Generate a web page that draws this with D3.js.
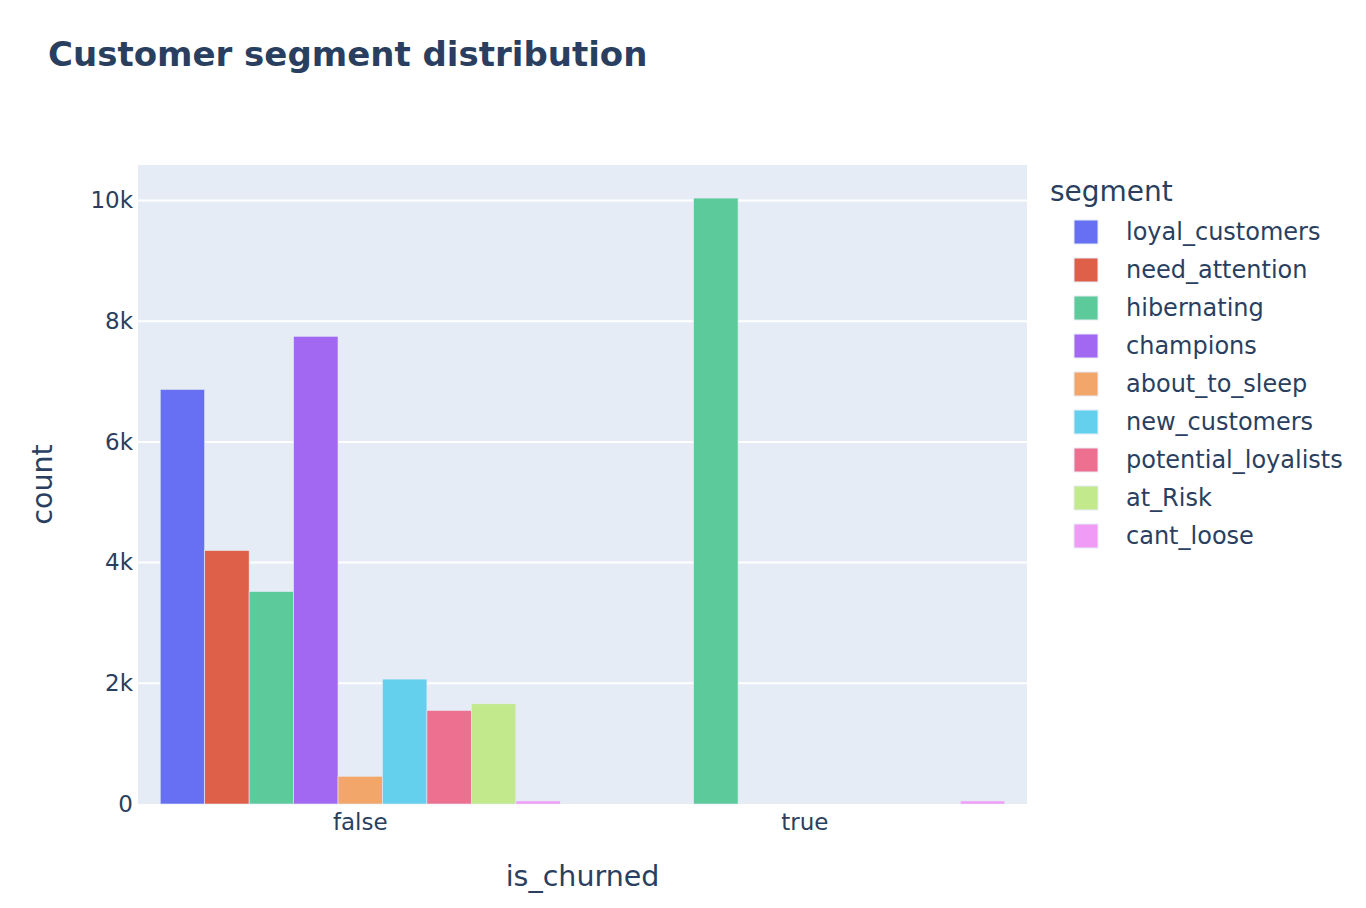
<!DOCTYPE html>
<html>
<head>
<meta charset="utf-8">
<title>Customer segment distribution</title>
<style>
body {
    margin: 0px;
    overflow: hidden;
    background: #fff;
}
text {
    font-family: "DejaVu Sans", Verdana, sans-serif;
    fill: #2a3f5f;
}
</style>
<script src="https://cdnjs.cloudflare.com/ajax/libs/d3/7.8.5/d3.min.js"></script>
</head>
<body>
<div id="chart"></div>
<script>

var groups = ["false", "true"];
var segments = ["loyal_customers", "need_attention", "hibernating", "champions",
    "about_to_sleep", "new_customers", "potential_loyalists", "at_Risk", "cant_loose"];
var colors = ["#6770f3", "#df6048", "#5cca9a", "#a268f2", "#f3a66a",
    "#64d0ee", "#ed7091", "#c2e98c", "#f09cf6"];
// null = no bar for that segment in that group
var countsFalse = [6870, 4200, 3520, 7750, 460, 2070, 1550, 1660, 50];
var countsTrue = [null, null, 10040, null, null, null, null, null, 50];
var yTicks = [0, 2000, 4000, 6000, 8000, 10000];

var width = 1366, height = 908;
var plot = {left: 138, right: 1027, top: 165, bottom: 804};

var svg = d3.select("#chart").append("svg")
    .attr("width", width)
    .attr("height", height);

var x = d3.scaleBand().domain(groups).range([plot.left, plot.right]).paddingInner(0).paddingOuter(0);
var inner = d3.scaleBand().domain(segments)
    .range([x.bandwidth() * 0.05, x.bandwidth() * 0.95]);
var y = d3.scaleLinear().domain([0, 10588]).range([plot.bottom, plot.top]);

svg.append("rect")
    .attr("x", plot.left).attr("y", plot.top)
    .attr("width", plot.right - plot.left)
    .attr("height", plot.bottom - plot.top)
    .attr("fill", "#e5ecf6");

// grid
svg.append("g").selectAll("line").data(yTicks.slice(1)).join("line")
    .attr("x1", plot.left).attr("x2", plot.right)
    .attr("y1", d => y(d)).attr("y2", d => y(d))
    .attr("stroke", "#fff").attr("stroke-width", 2);

// bars
var rows = [];
groups.forEach(function (g, gi) {
    var vals = gi === 0 ? countsFalse : countsTrue;
    segments.forEach(function (s, si) {
        if (vals[si] !== null) rows.push({g: g, s: s, v: vals[si], c: colors[si]});
    });
});

svg.append("g").selectAll("rect").data(rows).join("rect")
    .attr("x", d => x(d.g) + inner(d.s))
    .attr("width", inner.bandwidth())
    .attr("y", d => y(d.v))
    .attr("height", d => y(0) - y(d.v))
    .attr("fill", d => d.c)
    .attr("stroke", "#e5ecf6")
    .attr("stroke-width", 0.6);

// y axis
var yAxis = svg.append("g")
    .attr("transform", "translate(" + (plot.left - 5) + ",0)")
    .call(d3.axisLeft(y).tickValues(yTicks).tickSize(0).tickPadding(0)
        .tickFormat(d => d === 0 ? "0" : (d / 1000) + "k"));
yAxis.select(".domain").remove();
yAxis.selectAll("text").style("font-size", "23px").attr("fill", "#2a3f5f")
    .attr("font-family", "'DejaVu Sans', Verdana, sans-serif");

// x axis
var xAxis = svg.append("g")
    .attr("transform", "translate(0," + (plot.bottom + 10) + ")")
    .call(d3.axisBottom(x).tickSize(0).tickPadding(0));
xAxis.select(".domain").remove();
xAxis.selectAll("text").style("font-size", "23px").attr("fill", "#2a3f5f")
    .attr("font-family", "'DejaVu Sans', Verdana, sans-serif");

// axis titles
svg.append("text")
    .attr("x", (plot.left + plot.right) / 2).attr("y", 886)
    .attr("text-anchor", "middle")
    .style("font-size", "28.5px")
    .text("is_churned");

svg.append("text")
    .attr("transform", "translate(52," + ((plot.top + plot.bottom) / 2) + ") rotate(-90)")
    .attr("text-anchor", "middle")
    .style("font-size", "28.5px")
    .text("count");

// title
svg.append("text")
    .attr("x", 48).attr("y", 66)
    .style("font-size", "34px")
    .style("font-weight", "bold")
    .text("Customer segment distribution");

// legend
var legend = svg.append("g");
legend.append("text")
    .attr("x", 1050).attr("y", 201)
    .style("font-size", "28px")
    .text("segment");

var item = legend.selectAll("g.item").data(segments).join("g")
    .attr("class", "item")
    .attr("transform", (d, i) => "translate(0," + (232 + i * 38) + ")");
item.append("rect")
    .attr("x", 1074).attr("y", -12)
    .attr("width", 24).attr("height", 24)
    .attr("fill", (d, i) => colors[i])
    .attr("stroke", "#e5ecf6").attr("stroke-width", 1);
item.append("text")
    .attr("x", 1126).attr("y", 8)
    .style("font-size", "24px")
    .text(d => d);

</script>
</body>
</html>
